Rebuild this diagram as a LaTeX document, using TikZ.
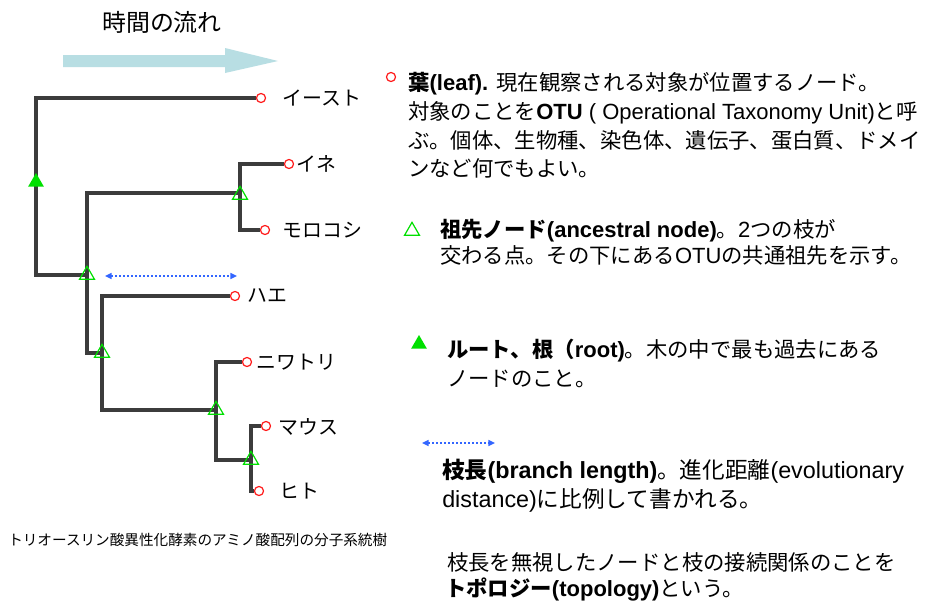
\documentclass[tikz,border=0pt]{standalone}
\usepackage{fontspec}
\setmainfont{Liberation Sans}
\newfontfamily\jpfont{Noto Sans CJK JP}[Scale=0.97]
\newcommand\jpt[1]{{\jpfont #1}}
\usetikzlibrary{shapes.geometric,arrows.meta,backgrounds}
\definecolor{treegray}{HTML}{3C3C3C}
\definecolor{leafred}{HTML}{FF1A1A}
\definecolor{ancgreen}{HTML}{00E000}
\definecolor{bluedot}{HTML}{3366FF}
\definecolor{flowblue}{HTML}{B8DEE3}
\begin{document}
\begin{tikzpicture}[x=0.75pt,y=-0.75pt,
  branch/.style={draw=treegray,line width=2.3pt},
  leaf/.style={circle,draw=leafred,line width=0.9pt,minimum size=6.8pt,inner sep=0pt},
  anc/.style={regular polygon,regular polygon sides=3,draw=ancgreen,line width=0.9pt,minimum size=13pt,inner sep=0pt},
  rootnode/.style={regular polygon,regular polygon sides=3,fill=ancgreen,minimum size=13.5pt,inner sep=0pt},
  lab/.style={anchor=west,inner sep=0pt,font=\fontsize{15.4}{18}\selectfont\jpfont},
  txt/.style={anchor=base west,inner sep=0pt,font=\fontsize{16.5}{20}\selectfont},
  txtb/.style={anchor=base west,inner sep=0pt,font=\fontsize{17.5}{20}\selectfont},
  blen/.style={draw=bluedot,line width=1.1pt,dash pattern=on 1.1pt off 1.9pt,{Triangle[length=5pt,width=4.5pt]}-{Triangle[length=5pt,width=4.5pt]}}
]
\useasboundingbox (0,0) rectangle (933,601);

% title and time arrow
\node[inner sep=0pt,font=\fontsize{18.5}{20}\selectfont\jpfont] (title) at (162,22) {時間の流れ};
\fill[flowblue] (63,55) -- (225,55) -- (225,48) -- (278,61) -- (225,73) -- (225,67) -- (63,67) -- cycle;

% tree nodes
\node[rootnode] (R) at (36,182) {};
\node[anc] (A) at (87,275) {};
\node[anc] (B) at (240,195) {};
\node[anc] (C) at (102,353) {};
\node[anc] (D) at (216,410) {};
\node[anc] (E) at (251,460) {};

\node[leaf] (yeast) at (261,98) {};
\node[leaf] (rice) at (289,164) {};
\node[leaf] (maize) at (265,230) {};
\node[leaf] (fly) at (235,296) {};
\node[leaf] (chicken) at (247,362) {};
\node[leaf] (mouse) at (266,426) {};
\node[leaf] (human) at (259,491) {};

\node[lab] (lyeast) at (282,98) {イースト};
\node[lab] (lrice) at (296,164) {イネ};
\node[lab] (lmaize) at (282,230) {モロコシ};
\node[lab] (lfly) at (247,296) {ハエ};
\node[lab] (lchicken) at (256,362) {ニワトリ};
\node[lab] (lmouse) at (278,427) {マウス};
\node[lab] (lhuman) at (279,491) {ヒト};

\begin{scope}[on background layer]
\fill[white] (0,0) rectangle (933,601);
\draw[branch] (R.center) |- (yeast);
\draw[branch] (R.center) |- (A.center);
\draw[branch] (A.center) |- ([yshift=1.5]B.center);
\draw[branch] (A.center) |- (C.center);
\draw[branch] ([yshift=1.5]B.center) |- (rice);
\draw[branch] ([yshift=1.5]B.center) |- (maize);
\draw[branch] (C.center) |- (fly);
\draw[branch] (C.center) |- (D.center);
\draw[branch] (D.center) |- (chicken);
\draw[branch] (D.center) |- (E.center);
\draw[branch] (E.center) |- (mouse);
\draw[branch] (E.center) |- (human);
\end{scope}

% branch length example in tree
\coordinate (bl1) at (105,276);
\coordinate (bl2) at (237,276);
\draw[blen] (bl1) -- (bl2);

% caption
\node[anchor=west,inner sep=0pt,font=\fontsize{11.3}{13}\selectfont\jpfont] (caption) at (8,540) {トリオースリン酸異性化酵素のアミノ酸配列の分子系統樹};

% legend: leaf
\node[leaf] (kleaf) at (391,77) {};
\node[txt] (p1a) at (408,90) {\textbf{\jpt{葉}(leaf).} \jpt{現在観察される対象が位置するノード。}};
\node[txt] (p1b) at (408,119) {\jpt{対象のことを}\textbf{OTU} ( Operational Taxonomy Unit)\jpt{と呼}};
\node[txt] (p1c) at (408,148) {\jpt{ぶ。個体、生物種、染色体、遺伝子、蛋白質、ドメイ}};
\node[txt] (p1d) at (408,176) {\jpt{ンなど何でもよい。}};

% legend: ancestral node
\node[anc] (kanc) at (412,231) {};
\node[txt] (p2a) at (440,237.5) {\textbf{\jpt{祖先ノード}(ancestral node)}\jpt{。}2\jpt{つの枝が}};
\node[txt] (p2b) at (440,263.5) {\jpt{交わる点。その下にある}OTU\jpt{の共通祖先を示す。}};

% legend: root
\node[rootnode] (kroot) at (419,344) {};
\node[txt] (p3a) at (447,357) {\textbf{\jpt{ルート、根（}root)}\jpt{。木の中で最も過去にある}};
\node[txt] (p3b) at (447,386) {\jpt{ノードのこと。}};

% legend: branch length
\coordinate (kb1) at (422,443);
\coordinate (kb2) at (495,443);
\draw[blen] (kb1) -- (kb2);
\node[txtb] (p4a) at (442,478) {\textbf{\jpt{枝長}(branch length)}\jpt{。進化距離}(evolutionary};
\node[txtb] (p4b) at (442,507) {distance)\jpt{に比例して書かれる。}};

% topology
\node[txt] (p5a) at (447,570) {\jpt{枝長を無視したノードと枝の接続関係のことを}};
\node[txt] (p5b) at (445,596) {\textbf{\jpt{トポロジー}(topology)}\jpt{という。}};
\end{tikzpicture}
\end{document}
